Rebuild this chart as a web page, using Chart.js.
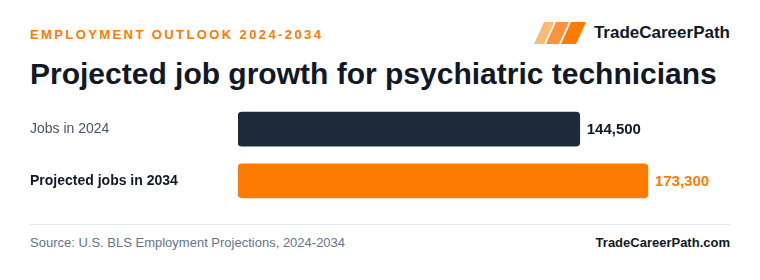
<!DOCTYPE html>
<html>
<head>
<meta charset="utf-8">
<script src="https://cdn.jsdelivr.net/npm/chart.js@4.4.1/dist/chart.umd.min.js"></script>
<style>
  html, body { margin: 0; padding: 0; background: #fff; }
  body { width: 760px; height: 280px; position: relative; overflow: hidden;
         font-family: "Liberation Sans", Arial, Helvetica, sans-serif; }
  .kicker { position: absolute; left: 30px; top: 27px; font-size: 13px; font-weight: bold;
            letter-spacing: 2.4px; color: #ff7a00; }
  .title { position: absolute; left: 30px; top: 57px; font-size: 30px; font-weight: bold;
           color: #111827; white-space: nowrap; }
  .brand { position: absolute; right: 30px; top: 22px; height: 22px; display: flex; align-items: center; }
  .brand svg { margin-right: 8px; }
  .brand span { font-size: 17px; font-weight: bold; color: #111827; }
  .chartbox { position: absolute; left: 30px; top: 95px; width: 700px; height: 120px; }
  .rule { position: absolute; left: 30px; top: 224px; width: 700px; height: 1px; background: #e2e8f0; }
  .source { position: absolute; left: 30px; top: 235px; font-size: 13px; color: #64748b; }
  .site { position: absolute; right: 30px; top: 235px; font-size: 13px; font-weight: bold; color: #111827; }
</style>
</head>
<body>
<div class="kicker">EMPLOYMENT OUTLOOK 2024-2034</div>
<div class="brand">
  <svg width="52" height="22" viewBox="0 0 52 22">
    <polygon points="10,0 20,0 10,22 0,22" fill="#fdba74"/>
    <polygon points="22,0 35,0 25,22 12,22" fill="#fb923c"/>
    <polygon points="37,0 52,0 42,22 27,22" fill="#ff7a00"/>
  </svg>
  <span>TradeCareerPath</span>
</div>
<div class="title">Projected job growth for psychiatric technicians</div>
<div class="chartbox"><canvas id="graf"></canvas></div>
<div class="rule"></div>
<div class="source">Source: U.S. BLS Employment Projections, 2024-2034</div>
<div class="site">TradeCareerPath.com</div>

<script>
// --- DATOS ---
const categorias = ["Jobs in 2024", "Projected jobs in 2034"];
const empleos = [144500, 173300];
const etiquetas = ["144,500", "173,300"];

const coloresBarra = ["#1e293b", "#ff7a00"];
const coloresValor = ["#111827", "#ff7a00"];

// --- ETIQUETAS DE VALOR AL FINAL DE CADA BARRA ---
const valoresPlugin = {
    id: "valores",
    afterDatasetsDraw(chart) {
        const ctx = chart.ctx;
        const meta = chart.getDatasetMeta(0);
        ctx.save();
        ctx.font = "bold 15px 'Liberation Sans', Arial, sans-serif";
        ctx.textBaseline = "middle";
        ctx.textAlign = "left";
        meta.data.forEach((bar, i) => {
            ctx.fillStyle = coloresValor[i];
            ctx.fillText(etiquetas[i], bar.x + 7, bar.y + 1);
        });
        ctx.restore();
    }
};

let grafica = new Chart(document.getElementById("graf"), {
    type: "bar",
    data: {
        labels: categorias,
        datasets: [{
            data: empleos,
            backgroundColor: coloresBarra,
            borderRadius: 4,
            borderSkipped: false,
            barThickness: 34
        }]
    },
    options: {
        indexAxis: "y",
        responsive: true,
        maintainAspectRatio: false,
        animation: false,
        layout: { padding: { right: 19, top: 0, bottom: 0, left: 0 } },
        plugins: {
            legend: { display: false },
            tooltip: { enabled: false }
        },
        scales: {
            x: {
                display: false,
                min: 0,
                max: 200000
            },
            y: {
                grid: { display: false },
                border: { display: false },
                ticks: {
                    crossAlign: "far",
                    padding: 0,
                    color: (c) => c.index === 0 ? "#475569" : "#111827",
                    font: (c) => ({
                        family: "'Liberation Sans', Arial, sans-serif",
                        size: 14,
                        weight: c.index === 0 ? "normal" : "bold"
                    })
                },
                afterFit(scale) { scale.width = 208; }
            }
        }
    },
    plugins: [valoresPlugin]
});
</script>
</body>
</html>
